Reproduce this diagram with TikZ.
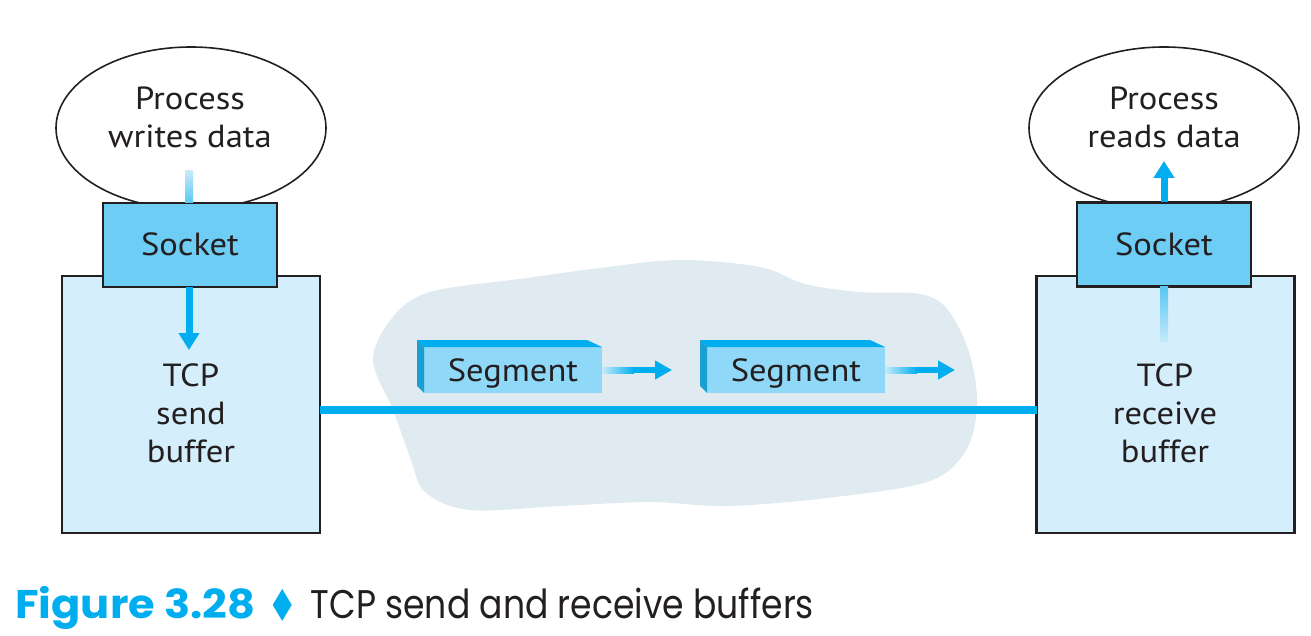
\documentclass[tikz,border=0pt]{standalone}
\usepackage{fontspec}
\setmainfont{PT Sans}[FakeStretch=1.08]
\newfontfamily\capb{Poppins}[FakeStretch=1.08]
\newfontfamily\capr{Poppins}[FakeStretch=0.865]
\newfontfamily\symfont{DejaVu Sans}
\usetikzlibrary{shapes.geometric,arrows.meta}
\definecolor{cblue}{HTML}{00AEEF}
\definecolor{sockfill}{HTML}{6DCDF5}
\definecolor{buffill}{HTML}{D5EEFB}
\definecolor{cloudfill}{HTML}{DFEAF1}
\definecolor{segfront}{HTML}{8FD8F8}
\definecolor{ink}{HTML}{231F20}
\definecolor{fade}{HTML}{C6EAFA}
\begin{document}
\begin{tikzpicture}[x=1pt,y=-1pt,
  lbl/.style={text=ink,font=\fontsize{32}{38}\selectfont,align=center,inner sep=0pt},
  proc/.style={ellipse,draw=ink,line width=1.6pt,fill=white,minimum width=270pt,minimum height=162pt,inner sep=0pt,outer sep=0pt},
  sockbox/.style={rectangle,draw=ink,line width=2.6pt,fill=sockfill,minimum width=174pt,minimum height=84pt,inner sep=0pt,outer sep=0pt,text=ink,font=\fontsize{32}{38}\selectfont,text height=22pt,text depth=0pt},
  bufbox/.style={rectangle,draw=ink,line width=2.6pt,fill=buffill,minimum width=258pt,minimum height=257pt,inner sep=0pt,outer sep=0pt},
  segbox/.style={rectangle,fill=segfront,minimum width=178pt,minimum height=46pt,inner sep=0pt,outer sep=0pt,text=ink,font=\fontsize{32}{38}\selectfont,text height=22pt,text depth=0pt},
  bluearrow/.style={draw=cblue,line width=7pt,-{Triangle[width=20pt,length=17pt]}},
  segarrow/.style={draw=cblue,line width=6pt,-{Triangle[width=18pt,length=17pt]}},
  wire/.style={draw=cblue,line width=8pt}
]
\useasboundingbox (0,0) rectangle (1311,636);

% cloud
\fill[cloudfill] plot[smooth cycle,tension=0.55] coordinates {
 (373,360) (392,318) (430,292) (527,278) (600,268) (680,260) (760,267)
 (805,284) (860,292) (920,294) (948,310) (970,355) (977,407) (965,452)
 (927,482) (827,498) (727,506) (650,502) (560,506) (470,510) (425,492)
 (410,457) (393,410)};

% buffers
\node[bufbox] (lbuf) at (191,404.5) {};
\node[bufbox] (rbuf) at (1165.5,404.5) {};
\node[lbl] (ltxt) at (191,413) {TCP\\send\\buffer};
\node[lbl] (rtxt) at (1165,413) {TCP\\receive\\buffer};

% wire
\draw[wire] ([yshift=-5.5pt]lbuf.east) -- ([yshift=-5.5pt]rbuf.west);

% processes
\node[proc] (lproc) at (191,128) {};
\node[proc] (rproc) at (1164,128) {};
\node[lbl] (lptxt) at (190,117) {Process\\writes data};
\node[lbl] (rptxt) at (1164,117) {Process\\reads data};

% left socket + arrows
\coordinate (ltop) at (189,171);
\coordinate (ltip) at (189,350);
\node[sockbox] (lsock) at (190,245) {Socket};
\shade[top color=fade,bottom color=sockfill!80!cblue] ([xshift=-4pt]ltop) rectangle ([xshift=4pt]lsock.north -| ltop);
\draw[bluearrow] (lsock.south -| ltip) -- (ltip);

% right socket + arrows
\coordinate (rtip) at (1164,161);
\coordinate (rbot) at (1164,342);
\node[sockbox] (rsock) at (1164,244.5) {Socket};
\draw[bluearrow] (rsock.north -| rtip) -- (rtip);
\shade[top color=sockfill!80!cblue,bottom color=fade] ([xshift=-4pt]rsock.south -| rbot) rectangle ([xshift=4pt]rbot);

% segments
\node[segbox] (seg1) at (513,370) {Segment};
\node[segbox] (seg2) at (796,370) {Segment};
\foreach \s in {seg1,seg2}{
  \fill[cblue] (\s.north west) -- ([shift={(-7,-7)}]\s.north west) -- ([shift={(-15,-7)}]\s.north east) -- (\s.north east) -- cycle;
  \fill[cblue!85!black!90] (\s.north west) -- ([shift={(-7,-7)}]\s.north west) -- ([shift={(-7,-7)}]\s.south west) -- (\s.south west) -- cycle;
}
\coordinate (a1) at (672,370);
\coordinate (a2) at (955,370);
\draw[segarrow] ([xshift=-40pt]a1) -- (a1);
\shade[left color=fade,right color=cblue] ([yshift=3pt]seg1.east) rectangle ([xshift=-38pt,yshift=-3pt]a1);
\draw[segarrow] ([xshift=-40pt]a2) -- (a2);
\shade[left color=fade,right color=cblue] ([yshift=3pt]seg2.east) rectangle ([xshift=-38pt,yshift=-3pt]a2);

% caption
\node[anchor=base west,inner sep=0pt] (cap) at (15,618)
 {\textcolor{cblue}{\capb\bfseries\fontsize{40}{44}\selectfont Figure 3.28}\hspace{12pt}%
  \textcolor{cblue}{\symfont\fontsize{34}{34}\selectfont\raisebox{-3pt}{\scalebox{1}[1.3]{♦}}}\hspace{13pt}%
  \textcolor{ink}{\capr\fontsize{40}{44}\selectfont TCP send and receive buffers}};
\end{tikzpicture}
\end{document}
